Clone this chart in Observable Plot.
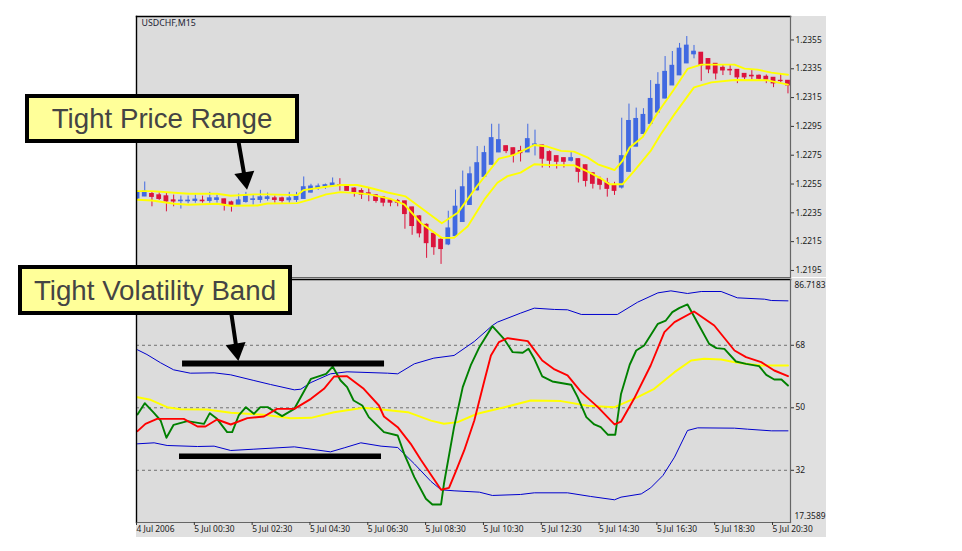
<!DOCTYPE html>
<html><head><meta charset="utf-8">
<script src="https://cdn.jsdelivr.net/npm/d3@7"></script>
<script src="https://cdn.jsdelivr.net/npm/@observablehq/plot@0.6"></script>
<style>
html,body{margin:0;padding:0;background:#fff}
#stage{position:relative;width:962px;height:551px;overflow:hidden;background:#fff}
#topPanel,#bottomPanel{position:absolute;left:136px}
#topPanel{top:16px}#bottomPanel{top:278px}
svg{display:block;font-family:"Noto Sans",sans-serif}
.callout{position:absolute;box-sizing:border-box;background:#ffff99;border:4px solid #000;color:#444;
 font-family:"Liberation Sans",sans-serif;font-size:27.7px;text-align:center;white-space:nowrap}
</style></head><body>
<div id="stage">
<div id="topPanel"></div><div id="bottomPanel"></div>
<div class="callout" style="left:25px;top:94px;width:274px;height:49px;line-height:41px">Tight Price Range</div>
<div class="callout" style="left:18px;top:265px;width:274px;height:50px;line-height:43px">Tight Volatility Band</div>
</div>
<script>
const symbolLabel = "USDCHF,M15";
const opens = [1.22448,1.22462,1.22482,1.22473,1.22466,1.22438,1.22429,1.22429,1.22431,1.22436,
1.22431,1.22438,1.22445,1.22424,1.22404,1.22424,1.22438,1.22438,1.22445,1.22452,
1.22452,1.22436,1.22438,1.22445,1.22489,1.22520,1.22531,1.22536,1.22543,1.22534,
1.22520,1.22503,1.22487,1.22473,1.22459,1.22438,1.22433,1.22431,1.22389,1.22327,
1.22268,1.22206,1.22164,1.22129,1.22187,1.22285,1.22403,1.22505,1.22598,1.22682,
1.22768,1.22814,1.22800,1.22780,1.22768,1.22821,1.22819,1.22773,1.22745,1.22731,
1.22710,1.22724,1.22682,1.22626,1.22584,1.22557,1.22543,1.22524,1.22633,1.22808,
1.22896,1.22966,1.23045,1.23142,1.23233,1.23303,1.23386,1.23449,1.23463,1.23419,
1.23386,1.23358,1.23344,1.23344,1.23316,1.23303,1.23303,1.23296,1.23289,1.23268,1.23268];
const closes = [1.22489,1.22499,1.22459,1.22445,1.22427,1.22427,1.22436,1.22436,1.22443,1.22429,
1.22452,1.22452,1.22410,1.22399,1.22438,1.22464,1.22445,1.22459,1.22459,1.22438,
1.22431,1.22452,1.22466,1.22529,1.22534,1.22534,1.22543,1.22555,1.22538,1.22501,
1.22492,1.22475,1.22473,1.22431,1.22419,1.22419,1.22419,1.22340,1.22257,1.22206,
1.22138,1.22110,1.22097,1.22243,1.22394,1.22529,1.22619,1.22696,1.22766,1.22870,
1.22856,1.22777,1.22749,1.22763,1.22863,1.22826,1.22724,1.22710,1.22703,1.22703,
1.22731,1.22633,1.22570,1.22550,1.22543,1.22515,1.22501,1.22745,1.22989,1.23003,
1.23031,1.23142,1.23240,1.23330,1.23372,1.23491,1.23512,1.23470,1.23372,1.23344,
1.23316,1.23337,1.23337,1.23289,1.23289,1.23296,1.23279,1.23273,1.23247,1.23263,1.23233];
const highs = [1.22501,1.22564,1.22494,1.22489,1.22485,1.22473,1.22466,1.22466,1.22473,1.22466,
1.22492,1.22473,1.22445,1.22431,1.22480,1.22492,1.22473,1.22506,1.22487,1.22466,
1.22459,1.22492,1.22492,1.22599,1.22548,1.22550,1.22550,1.22592,1.22587,1.22543,
1.22524,1.22517,1.22524,1.22475,1.22461,1.22443,1.22443,1.22431,1.22389,1.22331,
1.22273,1.22210,1.22176,1.22361,1.22508,1.22640,1.22668,1.22810,1.22812,1.22965,
1.22965,1.22814,1.22800,1.22812,1.22965,1.22924,1.22819,1.22780,1.22745,1.22731,
1.22773,1.22724,1.22682,1.22626,1.22598,1.22589,1.22562,1.23007,1.23105,1.23077,
1.23073,1.23268,1.23323,1.23435,1.23470,1.23526,1.23574,1.23512,1.23463,1.23419,
1.23386,1.23372,1.23372,1.23344,1.23316,1.23337,1.23307,1.23307,1.23289,1.23309,1.23268];
const lows = [1.22439,1.22462,1.22392,1.22436,1.22357,1.22392,1.22376,1.22413,1.22417,1.22417,
1.22417,1.22417,1.22362,1.22355,1.22399,1.22417,1.22404,1.22417,1.22431,1.22417,
1.22417,1.22417,1.22422,1.22445,1.22487,1.22506,1.22513,1.22534,1.22501,1.22499,
1.22459,1.22443,1.22427,1.22417,1.22392,1.22392,1.22392,1.22236,1.22194,1.22176,
1.22034,1.22055,1.21992,1.22122,1.22183,1.22285,1.22403,1.22501,1.22598,1.22682,
1.22768,1.22761,1.22696,1.22703,1.22768,1.22745,1.22661,1.22661,1.22654,1.22661,
1.22703,1.22557,1.22529,1.22515,1.22508,1.22459,1.22471,1.22515,1.22633,1.22808,
1.22896,1.22954,1.23045,1.23142,1.23233,1.23303,1.23386,1.23419,1.23263,1.23316,
1.23273,1.23303,1.23303,1.23247,1.23273,1.23273,1.23273,1.23247,1.23219,1.23252,1.23176];

// Moving-average envelopes on the price panel: [bar, price]
const envelopeUpper = [[0,1.22501],[2,1.22501],[5.1,1.22489],[7.1,1.22482],[11,1.22482],[12.9,1.22469],[16.1,1.22478],[18,1.22478],[22.1,1.22473],[23,1.22508],[26.1,1.22531],[28.1,1.22543],[30.4,1.22543],[32.1,1.22524],[34.6,1.22491],[37.1,1.22464],[39.2,1.22385],[42.1,1.22278],[44.3,1.2235],[47,1.22536],[50,1.22726],[52.1,1.22752],[54.9,1.22821],[56.7,1.2281],[58.6,1.2278],[60.4,1.22775],[62.3,1.22733],[63.7,1.22687],[65.5,1.22656],[66,1.22647],[67.1,1.2271],[68.1,1.22803],[69.9,1.22877],[72,1.23047],[74.1,1.23198],[76.1,1.23349],[78,1.23379],[82.6,1.23379],[84,1.23351],[85.8,1.23344],[87.7,1.23323],[90,1.23309]];
const envelopeLower = [[0,1.22441],[2,1.22436],[5.1,1.22413],[7.1,1.22406],[11,1.22413],[12.9,1.22399],[16.6,1.22401],[18,1.22415],[22.1,1.22417],[24,1.22443],[26.1,1.22478],[28.1,1.22494],[30.4,1.22487],[32.1,1.22478],[35,1.22447],[36.9,1.22408],[39.2,1.2228],[42.1,1.22176],[43.8,1.22176],[45.7,1.22257],[48,1.22443],[49.8,1.22559],[51.2,1.22605],[53,1.22629],[54.9,1.22687],[56.7,1.22682],[60.4,1.2268],[62.3,1.22636],[64.1,1.22589],[65.3,1.22548],[67.1,1.22548],[68.7,1.2264],[71,1.2278],[72.4,1.22896],[74.3,1.23035],[77,1.23221],[79.4,1.23256],[82.6,1.23272],[87.2,1.2327],[90,1.2324]];

// Indicator panel: [bar, level]
const bandUpper = [[0,66.7],[1.3,65.35],[3.2,62.95],[5,60.93],[7.3,59.97],[10.6,60.07],[12.9,59.49],[16.1,57.86],[18.4,56.71],[21.7,55.17],[22.6,55.36],[24,57.28],[26.7,59.78],[29,60.36],[34.6,59.97],[36,59.78],[38.3,62.66],[41,64.3],[43.8,65.07],[46.6,69.1],[49.1,73.7],[49.8,74.67],[53,77.26],[54.9,78.7],[57.7,78.32],[59.5,78.22],[61.4,76.88],[66.4,76.88],[69.2,80.42],[72,83.1],[73.8,83.68],[76.1,82.92],[78,83.49],[80.75,83.49],[83,81.67],[86.75,81.28],[87.7,80.9],[90,80.8]];
const bandLower = [[0,39.62],[2.3,39.91],[4.1,39.14],[8.3,38.85],[10.6,38.95],[12.9,37.7],[16.1,38.08],[21.7,38.75],[26.7,37.31],[28.6,38.46],[30.9,39.91],[33.7,38.95],[36,38.56],[38.3,33.86],[40.6,28.8],[42,26.38],[43.8,26.09],[47.3,25.7],[49.1,24.75],[53,25.03],[54.9,25.51],[59.5,25.51],[62.7,24.46],[66,23.5],[66.9,24.26],[69.7,25.2],[71,26.94],[72.7,30.5],[74.3,35.78],[76.1,43.46],[77.5,44.22],[82.6,44.13],[84.4,43.84],[87.7,43.36],[90,43.36]];
const signalLine = [[0,53.06],[1.8,52.29],[4.1,50.18],[5.95,49.6],[9.6,49.5],[12.9,48.55],[17.5,47.97],[21.2,47.01],[24,47.1],[27.2,48.74],[31.3,49.99],[34.1,49.41],[37.4,48.74],[40.6,46.3],[42.4,45.39],[44.3,45.87],[47,48.27],[51.2,50.38],[54.4,52.11],[58.6,51.92],[62.3,50.57],[66,50.19],[69.2,53.06],[71.5,55.46],[74.3,60.26],[76.6,63.62],[78.4,64.1],[80.75,63.91],[83,62.95],[86.3,62.18],[90,62.18]];
const smoothRsi = [[0,43.27],[1.1,45.38],[2.7,46.82],[6.4,46.82],[8.3,44.61],[9.4,44.61],[11,46.63],[12.9,45.19],[15.2,47.01],[17.5,47.49],[19.3,49.7],[21.7,49.7],[24,52.58],[25.8,55.46],[27.2,59.01],[29,59.11],[31.3,55.46],[33.4,50.66],[34.1,47.49],[36,44.42],[37.8,39.62],[39.2,35.02],[42,26.38],[43.1,26.95],[44,31.47],[45.2,37.71],[46.6,46.35],[48,57.87],[48.9,65.07],[50,68.91],[51.2,70.06],[54,69.2],[56,63.63],[57.7,61.04],[59.5,59.31],[61.4,54.51],[63.7,50.19],[66,45.2],[66.9,46.0],[68.7,52.58],[71,62.18],[72.9,71.78],[74.3,74.66],[77,77.73],[79.8,73.7],[82.6,66.5],[84.2,64.58],[86.3,63.14],[88.1,60.74],[90,59.11]];
const priceRsi = [[0,48.07],[1,51.33],[2.3,48.45],[3.2,46.34],[4,41.35],[5,45.09],[6.9,46.15],[9.2,45.38],[10,48.45],[11,46.82],[12.4,42.98],[13.1,42.98],[14,47.78],[15,50.18],[16.1,48.26],[17,50.18],[18,50.18],[20,47.59],[21.7,49.7],[24,58.34],[26.1,59.78],[27,61.89],[28.1,57.86],[29,55.94],[29.9,52.1],[31.1,50.66],[32,47.3],[34.1,42.98],[36,42.02],[36.9,36.74],[38.3,30.02],[39.9,23.78],[40.8,22.15],[42,22.15],[42.4,28.11],[43.8,44.43],[45,55.95],[46.1,62.19],[47.3,67.47],[49.1,73.51],[50.7,69.87],[51.9,66.03],[53.3,65.84],[54.1,66.99],[54.9,64.11],[56,59.02],[57.4,57.58],[60,56.62],[60.9,53.07],[62.1,47.31],[63.2,45.2],[64.1,44.43],[65.1,42.22],[66.1,42.22],[66.9,54],[68.1,62.4],[69,66.5],[70.1,67.94],[72,74.18],[73.1,75.14],[74,77.54],[75,78.79],[76.1,79.75],[77.7,73.7],[79.1,68.42],[80.1,67.17],[81.2,66.98],[82.8,63.33],[84.2,62.66],[86,61.99],[87,59.49],[88.1,58.15],[89.1,58.15],[90,56.42]];

const priceTicks = [1.2195,1.2215,1.2235,1.2255,1.2275,1.2295,1.2315,1.2335,1.2355];
const levelLines = [68,50,32];
const levelHigh = 86.7183, levelLow = 17.3589;
const timeBars = [0,8,16,24,32,40,48,56,64,72,80,88];
const timeLabels = ["4 Jul 2006","5 Jul 00:30","5 Jul 02:30","5 Jul 04:30","5 Jul 06:30","5 Jul 08:30","5 Jul 10:30","5 Jul 12:30","5 Jul 14:30","5 Jul 16:30","5 Jul 18:30","5 Jul 20:30"];

// Annotations, in data units
const priceArrow = [[14,1.22835],[14.8,1.22605]];
const priceArrowTip = [[14.9,1.22591]];
const bandArrow = [[13,76.87],[13.63,67.95]];
const bandArrowTip = [[13.7,66.8]];
const upperBar = {level:62.76,from:6.23,to:34.18};
const lowerBar = {level:36.06,from:5.81,to:33.76};

const bars = opens.map((o,i)=>({i,o,c:closes[i],h:highs[i],l:lows[i]}));
const candle = d=>d.c>=d.o?"#4169e1":"#dc143c";
const xDom = [-0.14,90.35];
const chartW = 690, axisW = 36;
const axisFill = "#e0e0e0", panelFill = "#dcdcdc", axisStroke="#666", labelFill="#1a1a1a";
const x0 = d=>d[0], y1 = d=>d[1];
const ln = (data,stroke,strokeWidth)=>Plot.line(data,{x:x0,y:y1,stroke,strokeWidth,curve:"linear"});
const tag = (value,dy)=>Plot.text([value],{x:()=>xDom[1],y:d=>d,text:d=>d3.format(".4f")(d),textAnchor:"start",dx:4,dy,fontSize:8.4,fill:labelFill});
const edges = ()=>[
  Plot.frame({anchor:"top",stroke:"#000",strokeWidth:1.4}),
  Plot.frame({anchor:"left",stroke:"#000",strokeWidth:1.4}),
  Plot.frame({anchor:"right",stroke:axisStroke,strokeWidth:1.2}),
  Plot.frame({anchor:"bottom",stroke:axisStroke,strokeWidth:1.2})
];

const priceChart = Plot.plot({
  width:chartW,height:261,marginLeft:0,marginRight:axisW,marginTop:0,marginBottom:0,
  style:{background:axisFill,fontFamily:"Noto Sans",fontSize:"8px",overflow:"visible"},
  x:{domain:xDom,axis:null},
  y:{domain:[1.21901,1.23713]},
  marks:[
    Plot.frame({fill:panelFill,stroke:null}),
    Plot.ruleX(bars,{x:"i",y1:"l",y2:"h",stroke:candle,strokeWidth:1,clip:true}),
    Plot.rect(bars,{x1:d=>d.i-.33,x2:d=>d.i+.33,y1:"o",y2:"c",fill:candle,insetTop:-.3,insetBottom:-.3,clip:true}),
    ln(envelopeUpper,"#ffff00",1.9),
    ln(envelopeLower,"#ffff00",1.9),
    ln(priceArrow,"#000",4),
    Plot.dot(priceArrowTip,{x:x0,y:y1,symbol:"triangle",r:7.5,fill:"#000",rotate:171}),
    ...edges(),
    Plot.axisY({anchor:"right",ticks:priceTicks,tickFormat:d3.format(".4f"),tickSize:3,tickPadding:2,stroke:"#333",fill:labelFill,fontSize:8.4,label:null}),
    Plot.text([symbolLabel],{frameAnchor:"top-left",dx:5,dy:3,fontSize:8.8,fill:"#223",text:d=>d})
  ]
});
document.getElementById("topPanel").append(priceChart);

const indicatorChart = Plot.plot({
  width:chartW,height:259,marginLeft:0,marginRight:axisW,marginTop:1,marginBottom:15,
  style:{background:axisFill,fontFamily:"Noto Sans",fontSize:"8px",overflow:"visible"},
  x:{domain:xDom,axis:null},
  y:{domain:[16.96,86.95]},
  marks:[
    Plot.frame({fill:panelFill,stroke:null}),
    Plot.ruleY(levelLines,{stroke:"#555",strokeWidth:.8,strokeDasharray:"3,3"}),
    ln(bandUpper,"#0000cd",1),
    ln(bandLower,"#0000cd",1),
    ln(signalLine,"#ffff00",2),
    ln(priceRsi,"#008000",1.9),
    ln(smoothRsi,"#ff0000",1.9),
    Plot.ruleY([upperBar],{y:"level",x1:"from",x2:"to",stroke:"#000",strokeWidth:6}),
    Plot.ruleY([lowerBar],{y:"level",x1:"from",x2:"to",stroke:"#000",strokeWidth:5.5}),
    ln(bandArrow,"#000",4),
    Plot.dot(bandArrowTip,{x:x0,y:y1,symbol:"triangle",r:7.5,fill:"#000",rotate:171}),
    ...edges(),
    Plot.axisY({anchor:"right",ticks:levelLines,tickSize:3,tickPadding:2,stroke:"#333",fill:labelFill,fontSize:8.4,label:null,tickFormat:d3.format("d")}),
    tag(levelHigh,5),
    tag(levelLow,-5),
    Plot.axisX({anchor:"bottom",ticks:timeBars,tickFormat:d=>timeLabels[timeBars.indexOf(d)],textAnchor:"start",tickSize:3,tickPadding:1,dx:-1,stroke:"#333",fill:labelFill,fontSize:8.4,label:null})
  ]
});
document.getElementById("bottomPanel").append(indicatorChart);
</script>
</body></html>
